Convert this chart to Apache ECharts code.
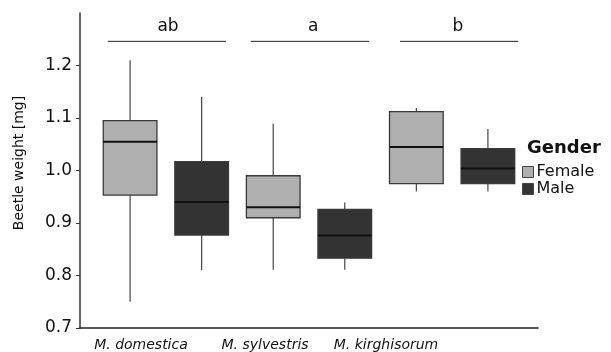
<!DOCTYPE html>
<html>
<head>
<meta charset="utf-8">
<script src="https://cdn.jsdelivr.net/npm/echarts@6/dist/echarts.min.js"></script>
<style>
  html, body { margin: 0; padding: 0; background: #fff; }
  #chart { width: 611px; height: 352px; }
</style>
</head>
<body>
<div id="chart"></div>
<script>
var fontName = "DejaVu Sans";

// species (x categories) and where their labels sit on the x scale
var speciesNames = ["M. domestica", "M. sylvestris", "M. kirghisorum"];
var speciesPos = [1, 2, 3];
var labelPos = [0.826, 1.693, 2.538];

// y axis ticks
var yTicks = [0.7, 0.8, 0.9, 1.0, 1.1, 1.2];

// box stats per species: [min, q1, median, q3, max]
var femaleStats = [
    [0.75, 0.953, 1.055, 1.095, 1.21],
    [0.811, 0.910, 0.930, 0.990, 1.089],
    [0.960, 0.975, 1.045, 1.112, 1.119]
];
var maleStats = [
    [0.81, 0.877, 0.940, 1.017, 1.14],
    [0.811, 0.833, 0.876, 0.926, 0.939],
    [0.960, 0.975, 1.004, 1.0415, 1.079]
];

// significance letters above the groups
var sigLetters = ["ab", "a", "b"];
var sigLeft = [0.594, 1.593, 2.636];
var sigRight = [1.420, 2.421, 3.462];
var sigTextX = [1.015, 2.03, 3.04];
var sigLineY = 1.246;
var sigTextY = 1.274;

var dodge = 0.25;     // offset of each gender from the species centre
var boxWidth = 0.375; // in x units

function buildBoxData(stats, side) {
    var out = [];
    for (var i = 0; i < stats.length; i++) {
        out.push([speciesPos[i] + side * dodge].concat(stats[i]));
    }
    return out;
}

function renderBox(params, api) {
    var x = api.value(0);
    var lo = api.coord([x, api.value(1)]);
    var q1 = api.coord([x, api.value(2)]);
    var med = api.coord([x, api.value(3)]);
    var q3 = api.coord([x, api.value(4)]);
    var hi = api.coord([x, api.value(5)]);
    var halfW = api.size([boxWidth, 0])[0] / 2;
    var fill = api.visual("color");
    return {
        type: "group",
        children: [
            { type: "line", shape: { x1: lo[0], y1: lo[1], x2: q1[0], y2: q1[1] },
              style: { stroke: "#444", lineWidth: 1.2 } },
            { type: "line", shape: { x1: q3[0], y1: q3[1], x2: hi[0], y2: hi[1] },
              style: { stroke: "#444", lineWidth: 1.2 } },
            { type: "rect", shape: { x: q3[0] - halfW, y: q3[1], width: halfW * 2, height: q1[1] - q3[1] },
              style: { fill: fill, stroke: "#3a3a3a", lineWidth: 1.3 } },
            { type: "line", shape: { x1: med[0] - halfW, y1: med[1], x2: med[0] + halfW, y2: med[1] },
              style: { stroke: "#111", lineWidth: 2 } }
        ]
    };
}

function renderSig(params, api) {
    var i = params.dataIndex;
    var a = api.coord([api.value(0), sigLineY]);
    var b = api.coord([api.value(1), sigLineY]);
    var t = api.coord([api.value(2), sigTextY]);
    return {
        type: "group",
        children: [
            { type: "line", shape: { x1: a[0], y1: a[1], x2: b[0], y2: b[1] },
              style: { stroke: "#222", lineWidth: 1 } },
            { type: "text", x: t[0], y: t[1],
              style: { text: sigLetters[i], align: "center", verticalAlign: "middle",
                       fill: "#111", font: "17px '" + fontName + "'" } }
        ]
    };
}

var sigData = [];
for (var i = 0; i < sigLetters.length; i++) {
    sigData.push([sigLeft[i], sigRight[i], sigTextX[i]]);
}

var chart = echarts.init(document.getElementById("chart"));
chart.setOption({
    animation: false,
    textStyle: { fontFamily: fontName },
    title: {
        text: "Gender",
        left: 527,
        top: 139,
        padding: 0,
        textStyle: { fontSize: 18, fontWeight: "bold", color: "#111", fontFamily: fontName }
    },
    legend: {
        data: ["Female", "Male"],
        orient: "vertical",
        left: 522,
        top: 164,
        padding: 0,
        itemGap: 1,
        itemWidth: 11,
        itemHeight: 11,
        icon: "rect",
        itemStyle: { borderColor: "#444", borderWidth: 1 },
        textStyle: { fontSize: 16, color: "#111", lineHeight: 16, padding: [0, 0, 0, -2] }
    },
    grid: { left: 80, right: 73, top: 13, bottom: 24 },
    xAxis: {
        type: "value",
        min: 0.4,
        max: 3.6,
        splitLine: { show: false },
        axisLine: { lineStyle: { color: "#222", width: 1.5 } },
        axisTick: { show: false },
        axisLabel: {
            customValues: labelPos,
            margin: 10,
            fontSize: 14,
            fontStyle: "italic",
            color: "#111",
            formatter: function(v) {
                var best = 0;
                for (var k = 1; k < labelPos.length; k++) {
                    if (Math.abs(labelPos[k] - v) < Math.abs(labelPos[best] - v)) best = k;
                }
                return speciesNames[best];
            }
        }
    },
    yAxis: {
        type: "value",
        min: 0.7,
        max: 1.3,
        interval: 0.1,
        name: "Beetle weight [mg]",
        nameLocation: "middle",
        nameGap: 54,
        nameTextStyle: { fontSize: 14, color: "#111", padding: [0, 0, 0, 15] },
        splitLine: { show: false },
        axisLine: { show: true, lineStyle: { color: "#333", width: 1.5 } },
        axisTick: { show: true, customValues: yTicks, length: 4, lineStyle: { color: "#333" } },
        axisLabel: {
            customValues: yTicks,
            margin: 8,
            fontSize: 17,
            color: "#111",
            formatter: function(v) { return v.toFixed(1); }
        }
    },
    series: [
        {
            name: "Female",
            type: "custom",
            renderItem: renderBox,
            itemStyle: { color: "#b0b0b0" },
            encode: { x: 0, y: [1, 2, 3, 4, 5] },
            data: buildBoxData(femaleStats, -1)
        },
        {
            name: "Male",
            type: "custom",
            renderItem: renderBox,
            itemStyle: { color: "#333333" },
            encode: { x: 0, y: [1, 2, 3, 4, 5] },
            data: buildBoxData(maleStats, 1)
        },
        {
            name: "sig",
            type: "custom",
            renderItem: renderSig,
            silent: true,
            encode: { x: [0, 1, 2] },
            data: sigData
        }
    ]
});
</script>
</body>
</html>
